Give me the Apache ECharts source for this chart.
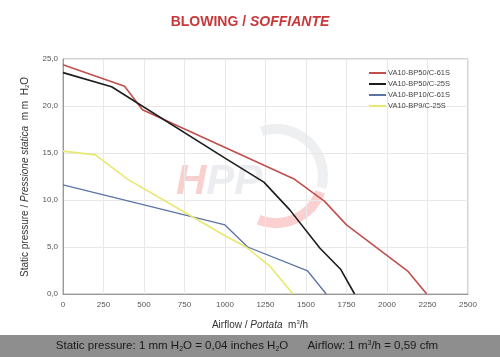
<!DOCTYPE html>
<html><head><meta charset="utf-8">
<script src="https://cdn.jsdelivr.net/npm/echarts@6/dist/echarts.min.js"></script>
<style>html,body{margin:0;padding:0;background:#fff}#c{width:500px;height:357px}</style>
</head><body><div id="c"></div>
<script>
const seriesNames = ['VA10-BP50/C-61S','VA10-BP50/C-25S','VA10-BP10/C-61S','VA10-BP9/C-25S'];
const redFlow = [0, 380, 490, 1430, 1615, 1750, 2130, 2245];
const redPress = [24.4, 22.1, 19.6, 12.2, 9.85, 7.35, 2.4, 0];
const blackFlow = [0, 300, 1000, 1240, 1400, 1585, 1715, 1800];
const blackPress = [23.55, 22.05, 14.45, 11.9, 8.95, 4.9, 2.6, 0];
const blueFlow = [0, 1000, 1140, 1510, 1625];
const bluePress = [11.6, 7.35, 5.0, 2.45, 0];
const yellowFlow = [0, 200, 400, 820, 1000, 1130, 1280, 1420];
const yellowPress = [15.2, 14.8, 12.2, 8.0, 6.2, 5.0, 2.9, 0];
const colors = ['#c0504d', '#1c1c1c', '#5b73a6', '#e8e870'];

const pair = (xs, ys) => xs.map((x, i) => [x, ys[i]]);
const allData = [pair(redFlow, redPress), pair(blackFlow, blackPress), pair(blueFlow, bluePress), pair(yellowFlow, yellowPress)];
const widths = [1.6, 1.6, 1.3, 1.6];

const chart = echarts.init(document.getElementById('c'), null, {renderer: 'canvas'});
const fnt = "'Liberation Sans', Arial, sans-serif";
chart.setOption({
  animation: false,
  backgroundColor: '#fff',
  title: {
    text: '{a|BLOWING / }{b|SOFFIANTE}',
    left: 'center', top: 10,
    textStyle: {rich: {
      a: {color: '#c8383a', fontSize: 14, fontWeight: 'bold', fontFamily: "'Liberation Sans Narrow', 'Liberation Sans', Arial, sans-serif"},
      b: {color: '#c8383a', fontSize: 14, fontWeight: 'bold', fontStyle: 'italic', fontFamily: "'Liberation Sans Narrow', 'Liberation Sans', Arial, sans-serif"}
    }}
  },
  graphic: [
    {type: 'rect', shape: {x: 0, y: 335, width: 500, height: 22}, style: {fill: '#8e8e8e'}, z: 0},
    {type: 'text', x: 247, y: 346, style: {
      text: '{t|Static pressure: 1 mm H}{s|2}{t|O = 0,04 inches H}{s|2}{t|O      Airflow: 1 m}{p|3}{t|/h = 0,59 cfm}',
      align: 'center', verticalAlign: 'middle',
      rich: {
        t: {fontSize: 11.5, fill: '#1a1a1a', fontFamily: fnt},
        s: {fontSize: 7, fill: '#1a1a1a', fontFamily: fnt, verticalAlign: 'bottom', padding: [6, 0, 0, 0]},
        p: {fontSize: 7, fill: '#1a1a1a', fontFamily: fnt, verticalAlign: 'top', padding: [0, 0, 6, 0]}
      }
    }, z: 1},
    {type: 'text', x: 260, y: 325, style: {
      text: '{t|Airflow / }{i|Portata}{t|  m}{p|3}{t|/h}',
      align: 'center', verticalAlign: 'middle',
      rich: {
        t: {fontSize: 10, fill: '#333', fontFamily: fnt},
        i: {fontSize: 10, fill: '#333', fontFamily: fnt, fontStyle: 'italic'},
        p: {fontSize: 6, fill: '#333', fontFamily: fnt, verticalAlign: 'top', padding: [0, 0, 5, 0]}
      }
    }},
    {type: 'text', x: 25, y: 177, rotation: Math.PI / 2, style: {
      text: '{t|Static pressure / }{i|Pressione statica}{t|  m m  H}{s|2}{t|O}',
      align: 'center', verticalAlign: 'middle',
      rich: {
        t: {fontSize: 10, fill: '#333', fontFamily: fnt},
        i: {fontSize: 10, fill: '#333', fontFamily: fnt, fontStyle: 'italic'},
        s: {fontSize: 6, fill: '#333', fontFamily: fnt, verticalAlign: 'bottom', padding: [5, 0, 0, 0]}
      }
    }},
    // faint watermark logo
    {type: 'arc', shape: {cx: 276, cy: 176, r: 47, startAngle: -Math.PI * 0.6, endAngle: Math.PI * 0.08},
      style: {stroke: 'rgba(200,202,208,0.3)', lineWidth: 10, fill: null}, z: 0, silent: true},
    {type: 'arc', shape: {cx: 276, cy: 176, r: 47, startAngle: Math.PI * 0.11, endAngle: Math.PI * 0.62},
      style: {stroke: 'rgba(240,120,120,0.35)', lineWidth: 10, fill: null}, z: 0, silent: true},
    {type: 'text', x: 176, y: 182, style: {
      text: '{r|H}{g|PP}', verticalAlign: 'middle',
      rich: {
        r: {fontSize: 42, fontWeight: 'bold', fontStyle: 'italic', fill: 'rgba(235,120,120,0.35)', fontFamily: fnt},
        g: {fontSize: 42, fontWeight: 'bold', fontStyle: 'italic', fill: 'rgba(190,195,205,0.3)', fontFamily: fnt}
      }
    }, z: 0, silent: true}
  ],
  legend: {
    data: seriesNames, orient: 'vertical', left: 364, top: 64,
    itemWidth: 17, itemHeight: 2, itemGap: 3, icon: 'rect',
    textStyle: {fontSize: 7.5, color: '#444', fontFamily: fnt, padding: [0, 0, 0, -3]}
  },
  grid: {left: 63, right: 32, top: 59, bottom: 63, show: true, borderColor: '#aaa', borderWidth: 1, backgroundColor: 'transparent'},
  xAxis: {
    type: 'value', min: 0, max: 2500, interval: 250,
    axisLine: {show: true, lineStyle: {color: '#999'}}, axisTick: {show: false},
    axisLabel: {fontSize: 8, color: '#555', fontFamily: fnt, margin: 7, formatter: v => String(v)},
    splitLine: {show: true, lineStyle: {color: '#e8e8e8'}}
  },
  yAxis: {
    type: 'value', min: 0, max: 25, interval: 5,
    axisLine: {show: true, lineStyle: {color: '#999'}}, axisTick: {show: false},
    axisLabel: {fontSize: 8, color: '#555', fontFamily: fnt, margin: 5, formatter: v => v.toFixed(1).replace('.', ',')},
    splitLine: {show: true, lineStyle: {color: '#e8e8e8'}}
  },
  series: seriesNames.map((n, i) => ({
    name: n, type: 'line', data: allData[i], showSymbol: false, symbol: 'none',
    lineStyle: {color: colors[i], width: widths[i]}, itemStyle: {color: colors[i]}, z: 5
  }))
});
</script></body></html>
